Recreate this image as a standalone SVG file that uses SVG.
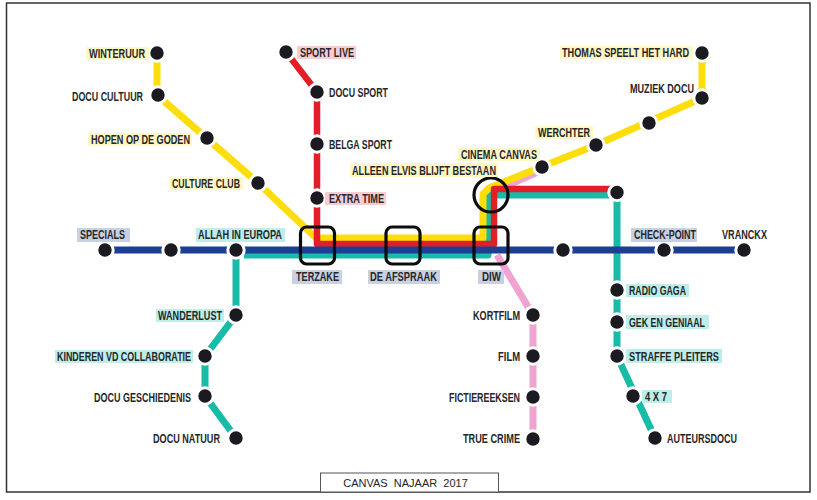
<svg xmlns="http://www.w3.org/2000/svg" width="817" height="500" viewBox="0 0 817 500">
<style>
text{font-family:"Liberation Sans Narrow","Liberation Sans",Arial,sans-serif;font-size:13.5px;font-weight:700;fill:#26262a}
.line{fill:none;stroke-linejoin:round}
.y{stroke:#fedd0c;stroke-width:7}
.r{stroke:#e21f26;stroke-width:6.5}
.b{stroke:#1c3f94;stroke-width:7}
.t{stroke:#17bba8;stroke-width:7}
.p{stroke:#f0a3d0;stroke-width:7}
.dot{fill:#1a1a20;stroke:#fff;stroke-width:3}
.ly{fill:#fff7c4}.lr{fill:#f8ccd0}.lb{fill:#c8d0e2}.lt{fill:#bdeee8}
.hub{fill:none;stroke:#0c0c0e;stroke-width:3.2}
</style>
<rect x="6.500" y="3" width="803.500" height="489" fill="#fff" stroke="#333" stroke-width="1.500"/>
<g id="connectors">
<path class="line p" d="M540 171L497 190"/>
<path class="line p" d="M497 255L533 315V439"/>
<path class="line t" d="M244 255H488V195H617V356L655 438"/>
<path class="line t" d="M236 250V315L205 356V396L236 438"/>
<path class="line y" d="M157 53V95L258 183L316 238H483V194L489 188L596 145L702 98V53"/>
<path class="line r" d="M286 52L317 92V244H494V189H617"/>
<path class="line b" d="M105 250H744"/>
</g>
<g id="hub-terzake"><rect class="hub" x="300.500" y="227" width="34" height="37" rx="6"/><rect class="lb" x="292" y="270" width="50" height="14"/><text x="296" y="281" textLength="43" lengthAdjust="spacingAndGlyphs">TERZAKE</text></g>
<g id="hub-de-afspraak"><rect class="hub" x="386" y="227" width="34" height="37" rx="6"/><rect class="lb" x="368" y="270" width="72" height="14"/><text x="370" y="281" textLength="67" lengthAdjust="spacingAndGlyphs">DE AFSPRAAK</text></g>
<g id="hub-diw"><rect class="hub" x="474" y="227" width="34" height="37" rx="6"/><rect class="lb" x="478" y="270" width="26" height="14"/><text x="482" y="281" textLength="19" lengthAdjust="spacingAndGlyphs">DIW</text></g>
<g id="hub-cinema"><circle class="hub" cx="491" cy="195" r="17"/></g>
<g id="winteruur"><circle class="dot" cx="157" cy="53" r="8.200"/><rect class="ly" x="86" y="47" width="63" height="13"/><text x="89" y="58" textLength="56" lengthAdjust="spacingAndGlyphs">WINTERUUR</text></g>
<g id="docu-cultuur"><circle class="dot" cx="158" cy="95" r="8.200"/><text x="72" y="101" textLength="71" lengthAdjust="spacingAndGlyphs">DOCU CULTUUR</text></g>
<g id="hopen"><circle class="dot" cx="207" cy="138" r="8.200"/><rect class="ly" x="88" y="133" width="104" height="13"/><text x="91" y="144" textLength="99" lengthAdjust="spacingAndGlyphs">HOPEN OP DE GODEN</text></g>
<g id="culture-club"><circle class="dot" cx="258" cy="183" r="8.200"/><rect class="ly" x="170" y="177" width="73" height="13"/><text x="172" y="188" textLength="68" lengthAdjust="spacingAndGlyphs">CULTURE CLUB</text></g>
<g id="sport-live"><circle class="dot" cx="286" cy="52" r="8.200"/><rect class="lr" x="297" y="46" width="59" height="13"/><text x="300" y="57" textLength="54" lengthAdjust="spacingAndGlyphs">SPORT LIVE</text></g>
<g id="docu-sport"><circle class="dot" cx="317" cy="92" r="8.200"/><text x="329" y="97" textLength="59" lengthAdjust="spacingAndGlyphs">DOCU SPORT</text></g>
<g id="belga-sport"><circle class="dot" cx="317" cy="144" r="8.200"/><text x="329" y="149" textLength="63" lengthAdjust="spacingAndGlyphs">BELGA SPORT</text></g>
<g id="extra-time"><circle class="dot" cx="317" cy="198" r="8.200"/><rect class="lr" x="325" y="192" width="61" height="13"/><text x="329" y="203" textLength="55" lengthAdjust="spacingAndGlyphs">EXTRA TIME</text></g>
<g id="alleen-elvis"><rect class="ly" x="350" y="163" width="148" height="14"/><text x="352" y="175" textLength="144" lengthAdjust="spacingAndGlyphs">ALLEEN ELVIS BLIJFT BESTAAN</text></g>
<g id="cinema-canvas"><circle class="dot" cx="542" cy="167" r="8.200"/><rect class="ly" x="458" y="148" width="82" height="13"/><text x="461" y="159" textLength="76" lengthAdjust="spacingAndGlyphs">CINEMA CANVAS</text></g>
<g id="werchter"><circle class="dot" cx="596" cy="145" r="8.200"/><rect class="ly" x="535" y="126" width="58" height="13"/><text x="538" y="137" textLength="52" lengthAdjust="spacingAndGlyphs">WERCHTER</text></g>
<g id="station-649"><circle class="dot" cx="649" cy="123" r="8.200"/></g>
<g id="muziek-docu"><circle class="dot" cx="702" cy="98" r="8.200"/><text x="630" y="93" textLength="64" lengthAdjust="spacingAndGlyphs">MUZIEK DOCU</text></g>
<g id="thomas"><circle class="dot" cx="702" cy="53" r="8.200"/><rect class="ly" x="560" y="46" width="133" height="13"/><text x="562" y="57" textLength="127" lengthAdjust="spacingAndGlyphs">THOMAS SPEELT HET HARD</text></g>
<g id="red-end"><circle class="dot" cx="617" cy="192.500" r="8.200"/></g>
<g id="specials"><circle class="dot" cx="105" cy="250" r="8.200"/><rect class="lb" x="77" y="228" width="53" height="14"/><text x="80" y="239" textLength="45" lengthAdjust="spacingAndGlyphs">SPECIALS</text></g>
<g id="station-171"><circle class="dot" cx="171" cy="250" r="8.200"/></g>
<g id="allah"><circle class="dot" cx="236" cy="250" r="8.200"/><rect class="lt" x="196" y="228" width="89" height="14"/><text x="198" y="239" textLength="84" lengthAdjust="spacingAndGlyphs">ALLAH IN EUROPA</text></g>
<g id="wanderlust"><circle class="dot" cx="236" cy="315" r="8.200"/><rect class="lt" x="156" y="309" width="68" height="13"/><text x="158" y="320" textLength="64" lengthAdjust="spacingAndGlyphs">WANDERLUST</text></g>
<g id="kinderen"><circle class="dot" cx="205" cy="356" r="8.200"/><rect class="lt" x="55" y="350" width="138" height="13"/><text x="57" y="361" textLength="134" lengthAdjust="spacingAndGlyphs">KINDEREN VD COLLABORATIE</text></g>
<g id="docu-geschiedenis"><circle class="dot" cx="205" cy="396" r="8.200"/><text x="94" y="402" textLength="97" lengthAdjust="spacingAndGlyphs">DOCU GESCHIEDENIS</text></g>
<g id="docu-natuur"><circle class="dot" cx="236" cy="438" r="8.200"/><text x="153" y="443" textLength="67" lengthAdjust="spacingAndGlyphs">DOCU NATUUR</text></g>
<g id="station-563"><circle class="dot" cx="563" cy="250" r="8.200"/></g>
<g id="check-point"><circle class="dot" cx="664" cy="250" r="8.200"/><rect class="lb" x="631" y="228" width="66" height="14"/><text x="634" y="239" textLength="62" lengthAdjust="spacingAndGlyphs">CHECK-POINT</text></g>
<g id="vranckx"><circle class="dot" cx="744" cy="250" r="8.200"/><text x="722" y="239" textLength="45" lengthAdjust="spacingAndGlyphs">VRANCKX</text></g>
<g id="radio-gaga"><circle class="dot" cx="617" cy="290" r="8.200"/><rect class="lt" x="626" y="284" width="63" height="13"/><text x="629" y="295" textLength="57" lengthAdjust="spacingAndGlyphs">RADIO GAGA</text></g>
<g id="gek-en-geniaal"><circle class="dot" cx="617" cy="322" r="8.200"/><rect class="lt" x="626" y="315" width="83" height="14"/><text x="629" y="327" textLength="76" lengthAdjust="spacingAndGlyphs">GEK EN GENIAAL</text></g>
<g id="straffe-pleiters"><circle class="dot" cx="617" cy="356" r="8.200"/><rect class="lt" x="626" y="349" width="96" height="14"/><text x="629" y="361" textLength="90" lengthAdjust="spacingAndGlyphs">STRAFFE PLEITERS</text></g>
<g id="four-x-seven"><circle class="dot" cx="633" cy="396" r="8.200"/><rect class="lt" x="642" y="390" width="30" height="13"/><text x="645" y="401" textLength="22" lengthAdjust="spacingAndGlyphs">4 X 7</text></g>
<g id="auteursdocu"><circle class="dot" cx="655" cy="438" r="8.200"/><text x="667" y="443" textLength="70" lengthAdjust="spacingAndGlyphs">AUTEURSDOCU</text></g>
<g id="kortfilm"><circle class="dot" cx="533" cy="315" r="8.200"/><text x="473" y="320" textLength="47" lengthAdjust="spacingAndGlyphs">KORTFILM</text></g>
<g id="film"><circle class="dot" cx="533" cy="356" r="8.200"/><text x="498" y="361" textLength="22" lengthAdjust="spacingAndGlyphs">FILM</text></g>
<g id="fictiereeksen"><circle class="dot" cx="533" cy="397" r="8.200"/><text x="449" y="402" textLength="71" lengthAdjust="spacingAndGlyphs">FICTIEREEKSEN</text></g>
<g id="true-crime"><circle class="dot" cx="533" cy="439" r="8.200"/><text x="463" y="443" textLength="57" lengthAdjust="spacingAndGlyphs">TRUE CRIME</text></g>
<g id="title"><rect x="320.500" y="473" width="178" height="19" fill="#fff" stroke="#555" stroke-width="1"/><text x="405.500" y="487" text-anchor="middle" style="font-family:'Liberation Sans',Arial,sans-serif;font-size:11px;font-weight:400;white-space:pre" xml:space="preserve">CANVAS  NAJAAR  2017</text></g>
</svg>
